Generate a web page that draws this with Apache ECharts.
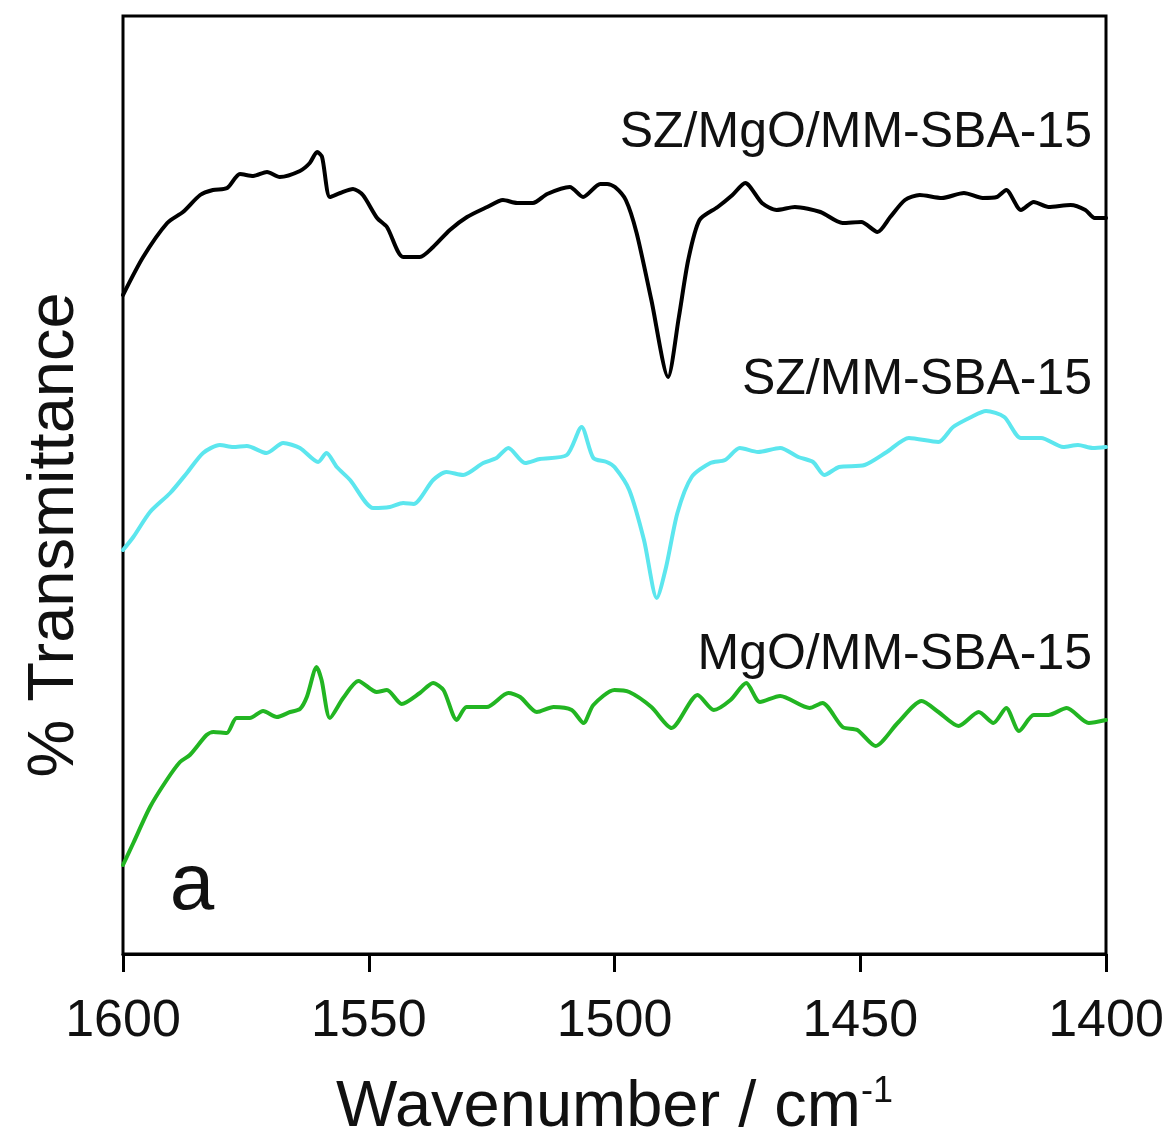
<!DOCTYPE html>
<html>
<head>
    <meta charset="utf-8">
    <script src="https://cdn.jsdelivr.net/npm/echarts@6/dist/echarts.min.js"></script>
    <style>
        html, body { margin: 0; padding: 0; background: #fff; }
    </style>
</head>
<body>
<div id="chart" style="width:1176px;height:1135px"></div>
<script>
    // wavenumber (cm-1) and relative transmittance (arbitrary, offset traces)
    var szMgoWn = [1600, 1595.9, 1591.0, 1587.8, 1584.3, 1581.7, 1578.8, 1576.2, 1573.5, 1570.7, 1568.1, 1564.0, 1562.0, 1560.5, 1559.5, 1557.9, 1555.8, 1553.2, 1551.2, 1548.3, 1546.3, 1543.0, 1539.6, 1536.9, 1533.5, 1530.0, 1525.9, 1522.7, 1519.8, 1516.6, 1513.7, 1509.1, 1506.4, 1502.9, 1501.5, 1499.9, 1497.7, 1495.5, 1492.5, 1489.1, 1486.9, 1485.0, 1482.7, 1479.0, 1476.0, 1473.4, 1470.0, 1467.0, 1463.3, 1458.1, 1453.6, 1449.8, 1446.5, 1443.9, 1440.9, 1437.9, 1433.4, 1428.9, 1425.1, 1422.2, 1420.3, 1417.3, 1414.7, 1411.7, 1407.2, 1404.2, 1402.3, 1400];
    var szMgoVal = [659, 697, 731, 742, 759, 764, 766, 780, 778, 782, 777, 783, 791, 802, 797, 757, 761, 765, 759, 736, 727, 697, 697, 707, 724, 737, 747, 754, 751, 751, 760, 767, 757, 770, 770, 767, 754, 721, 654, 577, 637, 694, 734, 747, 759, 771, 751, 744, 747, 742, 731, 732, 722, 737, 754, 759, 756, 761, 756, 757, 764, 744, 752, 747, 749, 744, 736, 736];

    var szWn = [1600, 1597.9, 1594.5, 1590.4, 1587.0, 1583.7, 1580.3, 1577.6, 1574.8, 1570.8, 1567.4, 1564.0, 1560.3, 1558.6, 1556.5, 1553.8, 1549.1, 1545.7, 1543.0, 1540.9, 1536.9, 1534.2, 1530.8, 1526.7, 1524.0, 1521.6, 1518.2, 1515.2, 1509.7, 1506.7, 1504.3, 1501.6, 1500.0, 1497.0, 1494.0, 1491.4, 1489.5, 1487.2, 1484.3, 1480.5, 1477.5, 1474.5, 1470.8, 1466.3, 1462.6, 1459.6, 1457.3, 1454.3, 1449.1, 1444.6, 1440.1, 1434.1, 1431.1, 1427.4, 1424.4, 1420.7, 1417.3, 1413.2, 1408.7, 1405.7, 1402.7, 1400];
    var szVal = [404, 417, 442, 461, 481, 501, 509, 507, 508, 501, 511, 506, 492, 501, 487, 474, 446, 447, 451, 450, 474, 482, 479, 491, 496, 506, 491, 495, 499, 527, 496, 492, 487, 464, 414, 356, 387, 441, 477, 491, 494, 506, 502, 506, 497, 492, 479, 487, 489, 502, 516, 512, 527, 537, 543, 537, 516, 516, 507, 509, 506, 507];

    var mgoWn = [1600, 1597.9, 1594.5, 1591.1, 1588.4, 1586.4, 1583.0, 1581.6, 1578.9, 1576.9, 1574.2, 1571.5, 1568.7, 1566.0, 1564.0, 1562.6, 1560.6, 1559.6, 1557.9, 1555.2, 1552.1, 1548.4, 1546.3, 1543.3, 1539.6, 1536.9, 1534.8, 1532.1, 1530.1, 1526.0, 1521.6, 1519.2, 1515.8, 1512.4, 1508.7, 1506.3, 1504.3, 1500.0, 1497.0, 1492.5, 1488.4, 1483.1, 1479.8, 1476.4, 1473.2, 1470.4, 1466.3, 1460.3, 1457.7, 1453.6, 1450.6, 1446.9, 1442.4, 1437.5, 1434.1, 1430.0, 1425.9, 1422.9, 1420.3, 1417.7, 1414.7, 1411.7, 1408.0, 1403.5, 1400];
    var mgoVal = [89, 111, 147, 174, 192, 199, 219, 222, 221, 236, 236, 243, 237, 242, 245, 257, 287, 274, 236, 256, 273, 262, 264, 250, 261, 271, 264, 234, 247, 247, 261, 257, 242, 247, 244, 231, 249, 264, 262, 247, 226, 259, 244, 254, 271, 252, 258, 246, 251, 227, 224, 208, 231, 253, 242, 228, 242, 231, 246, 223, 239, 239, 246, 231, 234];

    var xTicks = [1600, 1550, 1500, 1450, 1400];
    var seriesNames = ['SZ/MgO/MM-SBA-15', 'SZ/MM-SBA-15', 'MgO/MM-SBA-15'];
    var seriesColors = ['#000000', '#5ce6ee', '#22b522'];

    var pair = function (xs, ys) {
        var res = [];
        for (var i = 0; i < xs.length; i++) {
            res.push([xs[i], ys[i]]);
        }
        return res;
    };

    var chart = echarts.init(document.getElementById('chart'));
    var font = 'Liberation Sans, Arial, sans-serif';

    var lineSeries = function (idx, data) {
        return {
            name: seriesNames[idx],
            type: 'line',
            data: data,
            showSymbol: false,
            smooth: 0.25,
            lineStyle: { color: seriesColors[idx], width: 4, join: 'round', cap: 'round' },
            itemStyle: { color: seriesColors[idx] },
            z: 3
        };
    };

    var option = {
        animation: false,
        backgroundColor: '#fff',
        grid: {
            left: 123,
            right: 70,
            top: 16,
            bottom: 181,
            outerBoundsMode: 'none',
            show: true,
            borderColor: '#000',
            borderWidth: 3
        },
        xAxis: {
            type: 'value',
            inverse: true,
            min: 1400,
            max: 1600,
            interval: 50,
            name: 'Wavenumber / cm{sup|-1}',
            nameLocation: 'middle',
            nameGap: 120,
            nameTextStyle: {
                fontFamily: font,
                fontSize: 65,
                color: '#111',
                rich: {
                    sup: { fontSize: 36, fontFamily: font, color: '#111', padding: [0, 0, 32, 0] }
                }
            },
            axisLine: { show: true, lineStyle: { color: '#000', width: 3 } },
            axisTick: { show: true, inside: false, length: 18, lineStyle: { color: '#000', width: 3 } },
            axisLabel: {
                margin: 42,
                fontFamily: font,
                fontSize: 52,
                color: '#111',
                formatter: function (v) { return String(v); },
                customValues: xTicks
            },
            splitLine: { show: false }
        },
        yAxis: {
            type: 'value',
            min: 0,
            max: 938,
            axisLine: { show: false },
            axisTick: { show: false },
            axisLabel: { show: false },
            splitLine: { show: false }
        },
        graphic: [
            {
                type: 'text',
                x: 55, y: 535,
                rotation: Math.PI / 2,
                style: {
                    text: '% Transmittance',
                    font: '65px ' + font,
                    fill: '#111',
                    textAlign: 'center',
                    textVerticalAlign: 'middle'
                }
            },
            {
                type: 'text', x: 1092, y: 133,
                style: { text: seriesNames[0], font: '50px ' + font, fill: '#111', textAlign: 'right', textVerticalAlign: 'middle' }
            },
            {
                type: 'text', x: 1092, y: 380,
                style: { text: seriesNames[1], font: '50px ' + font, fill: '#111', textAlign: 'right', textVerticalAlign: 'middle' }
            },
            {
                type: 'text', x: 1092, y: 655,
                style: { text: seriesNames[2], font: '50px ' + font, fill: '#111', textAlign: 'right', textVerticalAlign: 'middle' }
            },
            {
                type: 'text', x: 192, y: 887,
                style: { text: 'a', font: '80px ' + font, fill: '#111', textAlign: 'center', textVerticalAlign: 'middle' }
            }
        ],
        series: [
            lineSeries(0, pair(szMgoWn, szMgoVal)),
            lineSeries(1, pair(szWn, szVal)),
            lineSeries(2, pair(mgoWn, mgoVal))
        ]
    };
    chart.setOption(option);
</script>
</body>
</html>
